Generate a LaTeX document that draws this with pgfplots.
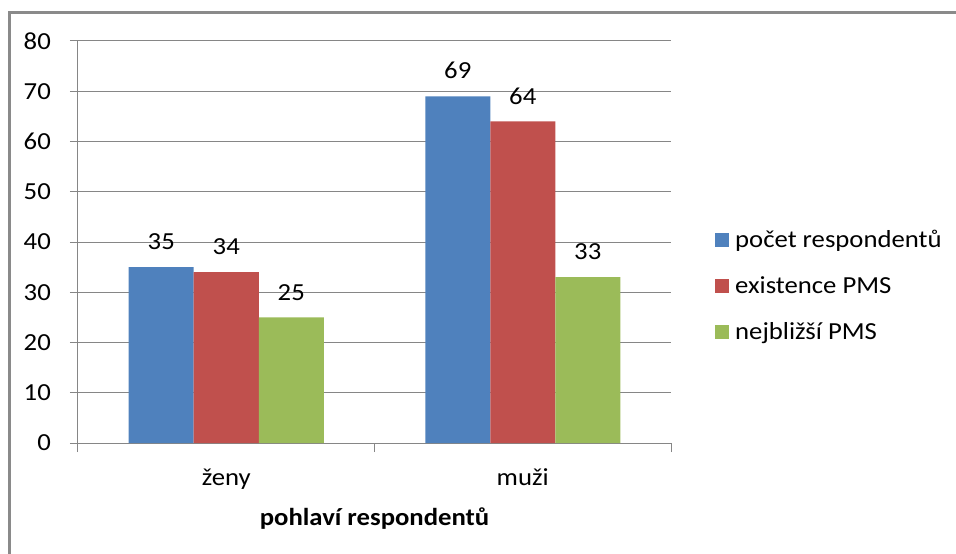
\documentclass[border=0pt]{standalone}
\usepackage{fontspec}
\setmainfont[FakeStretch=1.09]{Carlito}
\usepackage{pgfplots}
\pgfplotsset{compat=1.18}
\definecolor{cblue}{HTML}{4F81BD}
\definecolor{cred}{HTML}{C0504D}
\definecolor{cgreen}{HTML}{9BBB59}
\definecolor{cgrid}{HTML}{868686}
\definecolor{cframe}{HTML}{8A8A8A}
\begin{document}
\fontsize{24.5bp}{29bp}\selectfont
\begin{tikzpicture}
\begin{axis}[
  at={(0,0)}, anchor=south west,
  scale only axis, width=593bp, height=402bp,
  xmin=-0.5, xmax=1.5, ymin=0, ymax=80,
  ybar=0pt, bar width=65bp,
  xtick={0,1}, xticklabels={ženy,muži},
  minor xtick={-0.5,0.5,1.5},
  ytick={0,10,20,30,40,50,60,70,80},
  ymajorgrids, grid style={cgrid, line width=1bp},
  axis x line*=bottom, axis y line*=left,
  axis line style={cgrid, line width=1bp},
  tick align=outside,
  major tick length=8bp, minor tick length=9bp,
  tick style={cgrid, line width=1bp},
  major x tick style={draw=none},
  /pgf/number format/assume math mode=true,
  yticklabel style={anchor=east, inner sep=0pt, xshift=-19bp, text=black},
  xticklabel style={anchor=base, inner sep=0pt, yshift=-34bp, text=black},
  xlabel={pohlaví respondentů},
  every axis x label/.style={at={(axis description cs:0.5,0)}, anchor=base, yshift=-82bp, font=\bfseries, inner sep=0pt, text=black},
  nodes near coords,
  every node near coord/.append style={anchor=south, inner sep=0pt, yshift=17bp, text=black},
  legend style={at={(axis description cs:1.0742,0.5323)}, anchor=north west, draw=none, fill=none, inner sep=0pt, row sep=22bp,
    nodes={inner sep=0pt, anchor=base west, text height=18bp, text depth=6bp},
    /tikz/every odd column/.append style={column sep=6bp}},
  legend image code/.code={\fill[#1,draw=none] (0bp,0bp) rectangle (14bp,14bp);},
]
\addplot[fill=cblue, draw=none] coordinates {(0,35) (1,69)};
\addplot[fill=cred, draw=none] coordinates {(0,34) (1,64)};
\addplot[fill=cgreen, draw=none] coordinates {(0,25) (1,33)};
\legend{počet respondentů, existence PMS, nejbližší PMS}
\end{axis}
\draw[cframe, line width=2.5bp] (-68.5bp,-111bp) -- (-68.5bp,430.5bp) -- (878bp,430.5bp);
\pgfresetboundingbox
\path[use as bounding box] (-78bp,-111bp) rectangle (878bp,443bp);
\end{tikzpicture}
\end{document}
